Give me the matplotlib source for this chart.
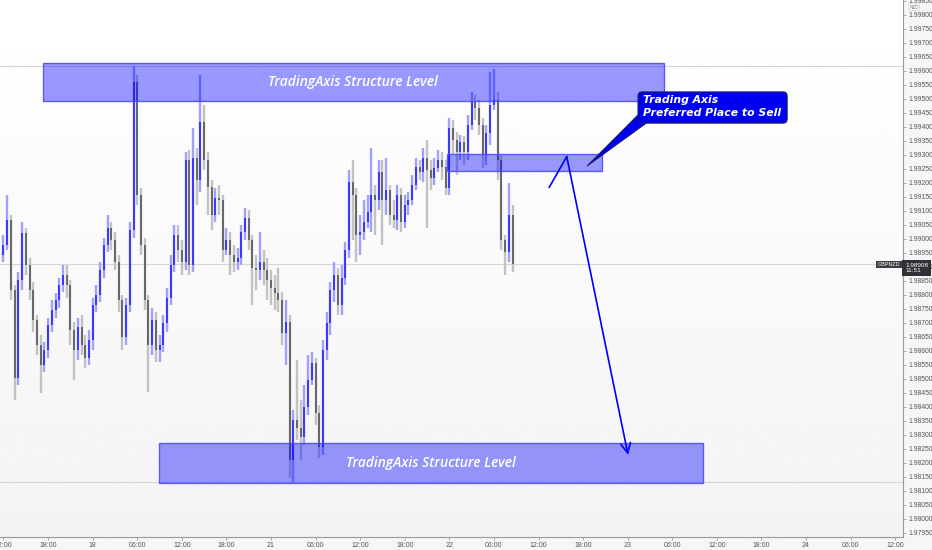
import matplotlib.pyplot as plt
from matplotlib.patches import Rectangle, FancyBboxPatch, Polygon
import numpy as np

# GBPNZD 30m candles, 17th 12:00 -> 22nd ~08:30 (bar index based, weekend skipped)
first_open = 1.98942
closes = [
    1.98978, 1.99067, 1.98817, 1.98503, 1.98853, 1.99020, 1.98906, 1.98817, 1.98710, 1.98621,
    1.98549, 1.98603, 1.98692, 1.98745, 1.98781, 1.98835, 1.98871, 1.98835, 1.98674, 1.98603,
    1.98685, 1.98621, 1.98574, 1.98638, 1.98763, 1.98799, 1.98888, 1.98978, 1.99038, 1.98996,
    1.98917, 1.98781, 1.98649, 1.98763, 1.99031, 1.99560, 1.99156, 1.98978, 1.98781, 1.98621,
    1.98710, 1.98603, 1.98621, 1.98699, 1.98788, 1.98906, 1.99013, 1.98960, 1.98917, 1.99281,
    1.98906, 1.99288, 1.99210, 1.99417, 1.99281, 1.99185, 1.99085, 1.99145, 1.99138, 1.98960,
    1.98996, 1.98942, 1.98917, 1.98931, 1.99024, 1.99074, 1.98996, 1.98896, 1.98888, 1.98917,
    1.98888, 1.98853, 1.98824, 1.98806, 1.98781, 1.98663, 1.98703, 1.98210, 1.98353, 1.98324,
    1.98292, 1.98399, 1.98496, 1.98556, 1.98378, 1.98256, 1.98603, 1.98699, 1.98817, 1.98871,
    1.98763, 1.98860, 1.98960, 1.99203, 1.99156, 1.99013, 1.99024, 1.99060, 1.99095, 1.99156,
    1.99138, 1.99238, 1.99138, 1.99174, 1.99085, 1.99067, 1.99156, 1.99060, 1.99120, 1.99138,
    1.99192, 1.99256, 1.99238, 1.99288, 1.99245, 1.99217, 1.99253, 1.99281, 1.99256, 1.99181,
    1.99395, 1.99353, 1.99310, 1.99345, 1.99310, 1.99406, 1.99488, 1.99467, 1.99406, 1.99299,
    1.99378, 1.99478, 1.99495, 1.99281, 1.98996, 1.98953, 1.99085, 1.98908,
]
highs = [
    1.99013, 1.99156, 1.99085, 1.98835, 1.98881, 1.99060, 1.99038, 1.98931, 1.98846, 1.98728,
    1.98656, 1.98631, 1.98717, 1.98781, 1.98806, 1.98860, 1.98906, 1.98906, 1.98853, 1.98703,
    1.98717, 1.98728, 1.98656, 1.98674, 1.98788, 1.98835, 1.98917, 1.99003, 1.99085, 1.99060,
    1.99024, 1.98942, 1.98799, 1.98788, 1.99060, 1.99617, 1.99585, 1.99181, 1.99003, 1.98799,
    1.98753, 1.98738, 1.98656, 1.98728, 1.98824, 1.98942, 1.99049, 1.99049, 1.98996, 1.99310,
    1.99317, 1.99395, 1.99324, 1.99585, 1.99478, 1.99310, 1.99210, 1.99181, 1.99192, 1.99156,
    1.99038, 1.99024, 1.98978, 1.98967, 1.99049, 1.99110, 1.99103, 1.99013, 1.98942, 1.99024,
    1.98960, 1.98931, 1.98888, 1.98871, 1.98896, 1.98810, 1.98781, 1.98728, 1.98388, 1.98567,
    1.98424, 1.98478, 1.98585, 1.98596, 1.98574, 1.98406, 1.98638, 1.98738, 1.98846, 1.98917,
    1.98896, 1.98906, 1.98988, 1.99245, 1.99281, 1.99181, 1.99085, 1.99138, 1.99156, 1.99324,
    1.99192, 1.99281, 1.99281, 1.99288, 1.99192, 1.99138, 1.99192, 1.99181, 1.99156, 1.99167,
    1.99228, 1.99288, 1.99281, 1.99324, 1.99353, 1.99281, 1.99288, 1.99317, 1.99310, 1.99281,
    1.99431, 1.99424, 1.99381, 1.99370, 1.99367, 1.99442, 1.99524, 1.99513, 1.99495, 1.99431,
    1.99406, 1.99595, 1.99606, 1.99524, 1.99299, 1.99013, 1.99199, 1.99120,
]
lows = [
    1.98917, 1.98960, 1.98781, 1.98424, 1.98478, 1.98817, 1.98871, 1.98781, 1.98667, 1.98585,
    1.98449, 1.98524, 1.98574, 1.98667, 1.98717, 1.98753, 1.98810, 1.98788, 1.98621, 1.98496,
    1.98567, 1.98585, 1.98538, 1.98549, 1.98603, 1.98738, 1.98774, 1.98860, 1.98953, 1.98960,
    1.98888, 1.98738, 1.98603, 1.98621, 1.98738, 1.99003, 1.99120, 1.98942, 1.98745, 1.98453,
    1.98585, 1.98560, 1.98560, 1.98596, 1.98667, 1.98763, 1.98881, 1.98917, 1.98871, 1.98888,
    1.98871, 1.98881, 1.99120, 1.99167, 1.99245, 1.99085, 1.99031, 1.99060, 1.99085, 1.98917,
    1.98942, 1.98871, 1.98881, 1.98888, 1.98906, 1.98996, 1.98960, 1.98763, 1.98817, 1.98853,
    1.98835, 1.98781, 1.98763, 1.98745, 1.98738, 1.98621, 1.98549, 1.98146, 1.98131, 1.98281,
    1.98210, 1.98263, 1.98371, 1.98478, 1.98335, 1.98217, 1.98228, 1.98567, 1.98656, 1.98774,
    1.98728, 1.98728, 1.98835, 1.98931, 1.98996, 1.98917, 1.98942, 1.98996, 1.99038, 1.99024,
    1.99013, 1.99103, 1.98978, 1.99085, 1.99049, 1.99038, 1.99031, 1.99024, 1.99038, 1.99085,
    1.99120, 1.99174, 1.99210, 1.99203, 1.99038, 1.99174, 1.99192, 1.99238, 1.99210, 1.99156,
    1.99156, 1.99299, 1.99228, 1.99281, 1.99263, 1.99281, 1.99388, 1.99424, 1.99370, 1.99253,
    1.99263, 1.99335, 1.99460, 1.99210, 1.98960, 1.98871, 1.98917, 1.98881,
]

time_labels = ["12:00", "18:00", "18", "06:00", "12:00", "18:00", "21", "06:00", "12:00",
               "18:00", "22", "06:00", "12:00", "18:00", "23", "06:00", "12:00", "18:00",
               "24", "06:00", "12:00"]
bars_per_label = 12

# zones: (first bar, last bar, low price, high price)
top_zone = (10.5, 177.8, 1.99493, 1.99629)
bottom_zone = (41.9, 188.3, 1.98129, 1.98270)
sell_zone = (119.3, 161.0, 1.99242, 1.99301)
# projected path (bar, price)
path_bars = [146.9, 151.6, 168.1]
path_prices = [1.99184, 1.99293, 1.98228]
callout_box = (170.8, 210.9, 1.99413, 1.99524)
callout_tip = (157.1, 1.99260)

BLUE = "#1a1aff"
ZONE = (0.0, 0.0, 1.0, 0.4)
AXIS_FONT = "Liberation Sans"

fig = plt.figure(figsize=(9.32, 5.5), dpi=100, facecolor="#f6f6f6")
ax = fig.add_axes([0, 13 / 550, 903 / 932, 537 / 550])
ax.set_xlim(-0.94, 242.1)
ax.set_ylim(1.979346, 1.998525)

# soft background gradient
grad = np.linspace(1.0, 0.955, 256).reshape(-1, 1)
ax.imshow(grad, cmap="gray", vmin=0, vmax=1, aspect="auto", zorder=0,
          extent=[-0.94, 242.1, 1.979346, 1.998525], origin="upper")

closes = np.array(closes)
highs = np.array(highs)
lows = np.array(lows)
opens = np.r_[first_open, closes[:-1]]
idx = np.arange(len(closes))
up = closes >= opens

# reference lines: session high / low / last price
for lvl in (highs.max(), lows.min(), closes[-1]):
    ax.axhline(lvl, color="#d6d6d6", lw=0.8, zorder=1)

wick_col = np.where(up, "#a0a0ff", "#c2c2c2")
body_col = np.where(up, BLUE, "#4d4d4d")
ax.vlines(idx, lows, highs, colors=wick_col, lw=1.7, zorder=2)
ax.vlines(idx, np.minimum(opens, closes), np.maximum(opens, closes),
          colors=body_col, lw=1.1, zorder=3)

zone_font = dict(family="Open Sans", style="italic", weight="semibold", size=10, color="white")
for (b0, b1, p0, p1) in (top_zone, bottom_zone):
    ax.add_patch(Rectangle((b0, p0), b1 - b0, p1 - p0, fc=ZONE, ec=(0.3, 0.3, 1.0, 0.9),
                           lw=1.0, zorder=4))
    ax.text((b0 + b1) / 2, (p0 + p1) / 2, "TradingAxis Structure Level", ha="center",
            va="center", zorder=5, **zone_font)
b0, b1, p0, p1 = sell_zone
ax.add_patch(Rectangle((b0, p0), b1 - b0, p1 - p0, fc=ZONE, ec=(0.3, 0.3, 1.0, 0.9),
                       lw=1.0, zorder=4))

# projected move
ax.plot(path_bars[:2], path_prices[:2], color="#0000ff", lw=1.2, zorder=6)
ax.annotate("", xy=(path_bars[2], path_prices[2]), xytext=(path_bars[1], path_prices[1]),
            arrowprops=dict(arrowstyle="->,head_length=0.7,head_width=0.35", color="#0000ff",
                            lw=1.2, shrinkA=0, shrinkB=0), zorder=6)

# callout
c0, c1, q0, q1 = callout_box
asp = (0.0000357) / (1 / 3.715)
ax.add_patch(Polygon([(c0, q0 + 0.00029), (c0 + 2.2, q0), callout_tip], closed=True,
                     fc="#0000f0", ec="#1b1b70", lw=0.8, zorder=7))
ax.add_patch(FancyBboxPatch((c0, q0), c1 - c0, q1 - q0,
                            boxstyle="round,pad=0,rounding_size=1.1", mutation_aspect=asp,
                            fc="#0000f0", ec="#1b1b70", lw=0.9, zorder=8))
ax.text(c0 + 1.4, q1 - 0.00030, "Trading Axis", color="white", style="italic",
        weight="bold", size=7.8, va="center", ha="left", zorder=9)
ax.text(c0 + 1.4, q1 - 0.00074, "Preferred Place to Sell", color="white", style="italic",
        weight="bold", size=7.8, va="center", ha="left", zorder=9)

# axes cosmetics
for s in ("top", "left"):
    ax.spines[s].set_visible(False)
ax.spines["right"].set_color("#9a9a9a")
ax.spines["bottom"].set_color("#9a9a9a")
ax.yaxis.tick_right()
yt = np.arange(1.9795, 1.99851, 0.0005)
ax.set_yticks(yt)
ax.set_yticklabels([f"{v:.5f}" for v in yt], family=AXIS_FONT)
ax.set_xticks(np.arange(len(time_labels)) * bars_per_label)
ax.set_xticklabels(time_labels, family=AXIS_FONT)
ax.tick_params(axis="y", labelsize=4.9, colors="#9a9a9a", labelcolor="#555555",
               length=2.5, width=0.6, pad=1.5)
ax.tick_params(axis="x", labelsize=5.0, colors="#9a9a9a", labelcolor="#555555",
               length=2.5, width=0.6, pad=1)

# last price tag (covers the nearby price label, as on the platform)
ax.annotate(f"{closes[-1]:.5f}\n11:51", xy=(1, closes[-1]), xycoords=("axes fraction", "data"),
            xytext=(1.5, -2.5), textcoords="offset points", ha="left", va="center", size=4.6,
            family=AXIS_FONT, color="white", linespacing=1.15, annotation_clip=False,
            zorder=10, bbox=dict(boxstyle="square,pad=0.45", fc="#2f3136", ec="none"))
ax.annotate("GBPNZD", xy=(1, closes[-1]), xycoords=("axes fraction", "data"),
            xytext=(-2, 0), textcoords="offset points", ha="right", va="center", size=3.9,
            family=AXIS_FONT, color="white", annotation_clip=False, zorder=10,
            bbox=dict(boxstyle="square,pad=0.25", fc="#3a3c42", ec="none"))
ax.annotate("NZD", xy=(1, 1.99827), xycoords=("axes fraction", "data"), xytext=(8, 0),
            textcoords="offset points", ha="center", va="center", size=3.3, color="#777777",
            family=AXIS_FONT, annotation_clip=False, zorder=10,
            bbox=dict(boxstyle="round,pad=0.15", fc="white", ec="#cccccc", lw=0.4))

fig.savefig("out.png", dpi=100, facecolor=fig.get_facecolor())
